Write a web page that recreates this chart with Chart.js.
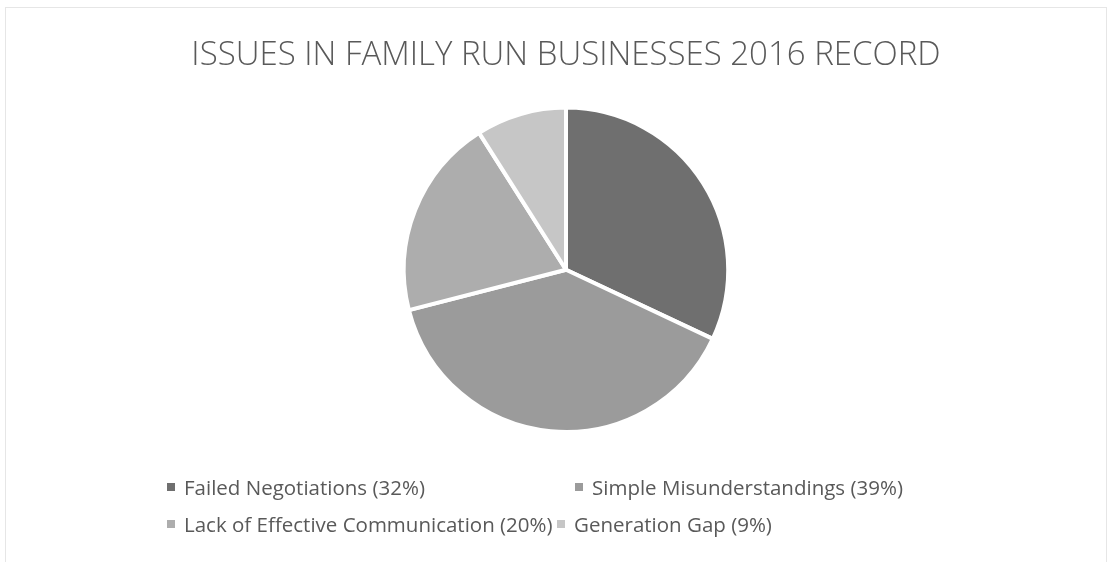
<!DOCTYPE html>
<html>
<head>
<meta charset="utf-8">
<script src="https://cdn.jsdelivr.net/npm/chart.js@4"></script>
<style>
  body { margin: 0; background: #fff; }
  #wrap { position: relative; width: 1112px; height: 562px; }
  #frame { position: absolute; left: 5px; top: 7px; width: 1102px; height: 560px; border: 1px solid #e6e6e6; box-sizing: border-box; }
  #legend { position: absolute; left: 0; top: 0; font-family: "Open Sans", sans-serif; font-size: 20.5px; color: #595959; }
  .item { position: absolute; white-space: nowrap; display: flex; align-items: center; height: 24px; }
  .box { width: 8px; height: 8px; margin-right: 9px; }
</style>
</head>
<body>
<div id="wrap">
  <div id="frame"></div>
  <canvas id="pie" width="1112" height="562"></canvas>
  <div id="legend"></div>
</div>
<script>
let categories = ['Failed Negotiations', 'Simple Misunderstandings', 'Lack of Effective Communication', 'Generation Gap'];
let shares = [32, 39, 20, 9];
let sliceColours = ['#6f6f6f', '#9b9b9b', '#adadad', '#c6c6c6'];

let chart = new Chart(document.getElementById('pie'), {
    type: 'pie',
    data: {
        labels: categories,
        datasets: [{
            data: shares,
            backgroundColor: sliceColours,
            borderColor: 'white',
            borderWidth: 4
        }]
    },
    options: {
        responsive: false,
        animation: false,
        layout: { padding: { left: 20, right: 0, top: 0, bottom: 128 } },
        plugins: {
            legend: { display: false },
            tooltip: { enabled: false },
            title: {
                display: true,
                text: 'ISSUES IN FAMILY RUN BUSINESSES 2016 RECORD',
                color: '#595959',
                font: { family: 'Open Sans', size: 33, weight: 300, lineHeight: 1.2 },
                padding: { top: 36, bottom: 30 }
            }
        }
    }
});

// legend rows like the Excel original: two items per row
let legendSpots = [[167, 487], [575, 487], [167, 524], [557, 524]];
let legend = document.getElementById('legend');
categories.forEach(function (name, i) {
    let item = document.createElement('div');
    item.className = 'item';
    item.style.left = legendSpots[i][0] + 'px';
    item.style.top = (legendSpots[i][1] - 12) + 'px';
    item.innerHTML = '<span class="box" style="background:' + sliceColours[i] + '"></span>' +
        name + ' (' + shares[i] + '%)';
    legend.appendChild(item);
});
</script>
</body>
</html>
